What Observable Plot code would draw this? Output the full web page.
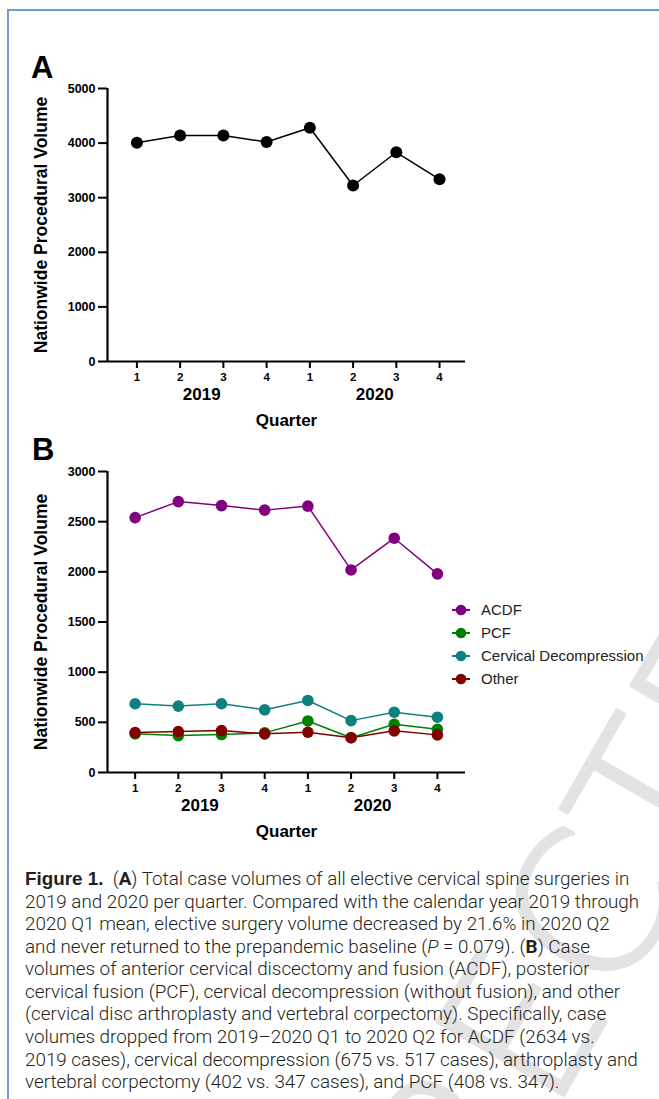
<!DOCTYPE html>
<html><head><meta charset="utf-8">
<script src="https://cdn.jsdelivr.net/npm/d3@7"></script>
<script src="https://cdn.jsdelivr.net/npm/@observablehq/plot@0.6"></script>
<style>
html,body{margin:0;padding:0;background:#fff;}
#page{position:relative;width:659px;height:1099px;overflow:hidden;background:#fff;font-family:"Liberation Sans",Arial,sans-serif;}
#frame{position:absolute;left:7px;top:9px;width:800px;height:1300px;border-left:2px solid #6b9fd6;border-top:2px solid #6b9fd6;}
#wm{position:absolute;left:0;top:0;}
.panel{position:absolute;left:0;}
.plabel{position:absolute;font-weight:bold;font-size:31px;line-height:1;color:#000;}
#legend{position:absolute;left:451px;top:598px;font-family:"Liberation Sans",Arial,sans-serif;font-size:15px;color:#222;}
#legend .row{height:23px;display:flex;align-items:center;}
#legend svg{margin-right:10px;}
#caption{position:absolute;left:25px;top:868px;font-family:"Roboto","Liberation Sans",sans-serif;font-weight:300;color:#231f20;line-height:22.56px;}
#caption div{white-space:nowrap;}
#caption b{font-weight:700;}
#caption .fig{font-family:"Liberation Sans Narrow","Liberation Sans",sans-serif;font-weight:bold;}
</style>
</head><body>
<div id="page">
  <svg id="wm" width="659" height="1099"><text x="116" y="1870" transform="rotate(-60,116,1870)" font-family="DejaVu Sans, Roboto, sans-serif" font-weight="200" font-size="200" fill="#e3e3e3" stroke="#e3e3e3" stroke-width="4" stroke-linejoin="round">UNCORRECTED PROOF</text></svg>
  <div id="frame"></div>
  <div class="plabel" style="left:31px;top:52px;">A</div>
  <div class="plabel" style="left:32px;top:434px;">B</div>
  <div id="panelA" class="panel" style="top:0px;"></div>
  <div id="panelB" class="panel" style="top:441px;"></div>
  <div id="legend"></div>
  <div id="caption">
    <div id="cap1"><span class="fig">Figure 1.</span>&nbsp; (<b>A</b>) Total case volumes of all elective cervical spine surgeries in</div>
    <div>2019 and 2020 per quarter. Compared with the calendar year 2019 through</div>
    <div>2020 Q1 mean, elective surgery volume decreased by 21.6% in 2020 Q2</div>
    <div>and never returned to the prepandemic baseline (<i>P</i> = 0.079). (<b>B</b>) Case</div>
    <div>volumes of anterior cervical discectomy and fusion (ACDF), posterior</div>
    <div>cervical fusion (PCF), cervical decompression (without fusion), and other</div>
    <div>(cervical disc arthroplasty and vertebral corpectomy). Specifically, case</div>
    <div>volumes dropped from 2019&#8211;2020 Q1 to 2020 Q2 for ACDF (2634 vs.</div>
    <div>2019 cases), cervical decompression (675 vs. 517 cases), arthroplasty and</div>
    <div>vertebral corpectomy (402 vs. 347 cases), and PCF (408 vs. 347).</div>
  </div>
</div>
<script>
// ---- data ----
const quarters = ["1","2","3","4","1","2","3","4"];
const years = ["2019","2020"];
const totalVolume = [4008, 4138, 4141, 4020, 4280, 3224, 3832, 3337];
const series = ["ACDF","PCF","Cervical Decompression","Other"];
const acdf = [2540, 2700, 2660, 2615, 2655, 2019, 2335, 1980];
const pcf = [385, 368, 378, 395, 514, 347, 481, 431];
const decompression = [685, 662, 685, 625, 718, 517, 601, 551];
const other = [398, 408, 418, 385, 401, 347, 415, 375];
const seriesColors = ["#800080","#008000","#0f8080","#800000"];
const yTicksA = [0,1000,2000,3000,4000,5000];
const yTicksB = [0,500,1000,1500,2000,2500,3000];
const yLabel = "Nationwide Procedural Volume";
const xLabel = "Quarter";

const FONT = "Liberation Sans, Arial, sans-serif";
const idx = quarters.map((q,i)=>i+1);
const yearPos = years.map((y,k)=> k*4 + 2.5);

function panel({yDomain, yTicks, xDomain, height, marginTop, dataMarks}) {
  return Plot.plot({
    width: 659, height, marginTop, marginBottom: 80, marginLeft: 107, marginRight: 194,
    style: {fontFamily: FONT, color: "#000", background: "transparent", overflow: "visible"},
    x: {domain: xDomain, axis: null},
    y: {domain: yDomain, axis: null},
    color: {domain: series, range: seriesColors},
    marks: [
      Plot.ruleX([xDomain[0]], {stroke: "#000", strokeWidth: 2.2}),
      Plot.ruleY([0], {stroke: "#000", strokeWidth: 2.2, x1: xDomain[0], x2: xDomain[1]}),
      Plot.axisY({ticks: yTicks, label: null, tickSize: 9, tickPadding: 3, fontSize: 12.5, fontWeight: "bold", strokeWidth: 2, tickFormat: d => String(d)}),
      Plot.axisX({ticks: idx, label: null, tickSize: 7, tickPadding: 4, fontSize: 11.5, fontWeight: "bold", strokeWidth: 2, tickFormat: d => quarters[d-1]}),
      Plot.text(years, {x: (d,i) => yearPos[i], frameAnchor: "bottom", dy: 38, fontSize: 17, fontWeight: "bold"}),
      Plot.text([xLabel], {frameAnchor: "bottom", dy: 64, fontSize: 17, fontWeight: "bold"}),
      Plot.text([yLabel], {frameAnchor: "left", textAnchor: "middle", dx: -66, rotate: -90, fontSize: 17.5, fontWeight: "bold"}),
      ...dataMarks
    ]
  });
}

const dataA = idx.map((x,i)=>({x, v: totalVolume[i]}));
const plotA = panel({
  yDomain: [0,5000], yTicks: yTicksA, xDomain: [0.32, 8.6], height: 441, marginTop: 88,
  dataMarks: [
    Plot.line(dataA, {x: "x", y: "v", stroke: "#000", strokeWidth: 1.5}),
    Plot.dot(dataA, {x: "x", y: "v", r: 6, fill: "#000"})
  ]
});
document.getElementById("panelA").append(plotA);

const values = [acdf, pcf, decompression, other];
const dataB = series.flatMap((s,k)=> values[k].map((v,i)=>({s, x: i+1, v})));
const plotB = panel({
  yDomain: [0,3000], yTicks: yTicksB, xDomain: [0.36, 8.65], height: 411, marginTop: 30,
  dataMarks: [
    Plot.line(dataB, {x: "x", y: "v", z: "s", stroke: "s", strokeWidth: 1.5}),
    Plot.dot(dataB, {x: "x", y: "v", r: 5.8, fill: "s"})
  ]
});
document.getElementById("panelB").append(plotB);

// legend
const leg = document.getElementById("legend");
series.forEach((s,k)=>{
  const row = document.createElement("div");
  row.className = "row";
  row.innerHTML = `<svg width="20" height="12"><line x1="1" x2="19" y1="6" y2="6" stroke="${seriesColors[k]}" stroke-width="2"/><circle cx="10" cy="6" r="5.3" fill="${seriesColors[k]}"/></svg><span>${s}</span>`;
  leg.append(row);
});

// caption sizing: fit first line to the reference width
const cap = document.getElementById("caption");
cap.style.fontSize = "16px";
const cap1 = document.getElementById("cap1");
const range = document.createRange(); range.selectNodeContents(cap1);
const tw = range.getBoundingClientRect().width;
cap.style.fontSize = (16 * 605 / tw) + "px";
</script>
</body></html>
